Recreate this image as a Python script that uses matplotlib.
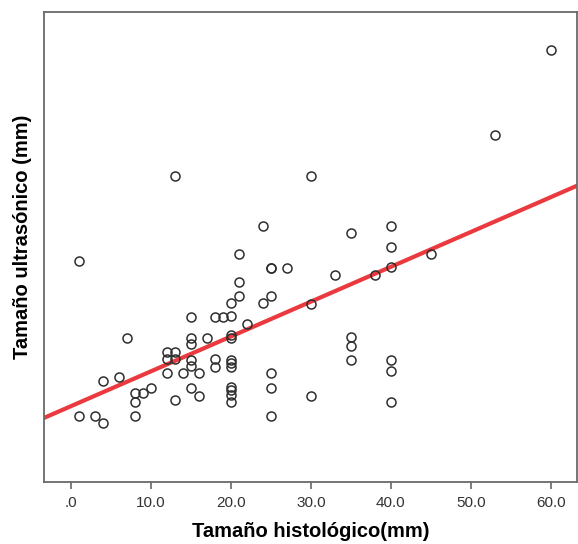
import matplotlib
matplotlib.use("Agg")
import matplotlib.pyplot as plt
import numpy as np

# histologic size (mm)
histologic = [
    1, 13, 30, 60, 53, 24, 35, 40, 40, 21, 45, 25, 25, 27, 33, 38, 40,
    21, 21, 25, 20, 24, 30, 15, 18, 19, 20, 22, 7, 15, 15, 17, 20, 20,
    35, 35, 35, 12, 13, 12, 13, 15, 15, 18, 18, 20, 20, 20, 40, 40, 12,
    14, 16, 25, 6, 4, 15, 10, 8, 9, 16, 13, 8, 20, 20, 20, 20, 25, 30,
    40, 1, 3, 8, 4, 25,
]
# ultrasonic size (mm), no scale shown on the original axis
ultrasonic = [
    27.6, 38.2, 38.2, 54.0, 43.4, 32.0, 31.1, 32.0, 29.4, 28.5, 28.5, 26.8, 26.8, 26.8, 25.9, 25.9, 26.9,
    25.0, 23.3, 23.3, 22.4, 22.4, 22.3, 20.6, 20.6, 20.6, 20.8, 19.8, 18.0, 18.0, 17.3, 18.0, 18.4, 18.0,
    18.1, 17.0, 15.3, 16.3, 16.3, 15.4, 15.4, 15.3, 14.5, 15.4, 14.4, 15.3, 14.9, 14.4, 15.3, 13.9, 13.6,
    13.6, 13.6, 13.6, 13.1, 12.6, 11.8, 11.8, 11.1, 11.1, 10.8, 10.3, 10.0, 11.9, 11.5, 10.9, 10.0, 11.8, 10.8,
    10.0, 8.3, 8.3, 8.3, 7.4, 8.2,
]
x_ticks = [0, 10, 20, 30, 40, 50, 60]
x_tick_labels = [".0", "10.0", "20.0", "30.0", "40.0", "50.0", "60.0"]

x = np.array(histologic, dtype=float)
y = np.array(ultrasonic, dtype=float)
slope, intercept = np.polyfit(x, y, 1)

plt.rcParams["font.family"] = ["Liberation Sans", "DejaVu Sans"]
fig = plt.figure(figsize=(5.78, 5.44), dpi=100)
ax = fig.add_axes([0.0761, 0.114, 0.922, 0.864])

ax.plot(x, y, linestyle="none", marker="o", markersize=6.5, markerfacecolor="none",
        markeredgecolor="#2e2e2e", markeredgewidth=1.1, zorder=3)

xmin, xmax = -3.35, 63.25
line_x = np.array([xmin, xmax])
ax.plot(line_x, intercept + slope * line_x, color="#ea3a3f", linewidth=3.0, zorder=2)

ax.set_xlim(xmin, xmax)
ax.set_ylim(0, 58.75)
ax.set_xticks(x_ticks)
ax.set_xticklabels(x_tick_labels, fontsize=11, color="#333333")
ax.tick_params(axis="x", direction="out", length=5, width=1.2, color="#666666", pad=5)
ax.set_yticks([])
for spine in ax.spines.values():
    spine.set_color("#6a6a6a")
    spine.set_linewidth(1.3)

ax.set_xlabel("Tamaño histológico(mm)", fontsize=14.5, fontweight="bold", labelpad=9)
ax.set_ylabel("Tamaño ultrasónico (mm)", fontsize=14.5, fontweight="bold")
ax.yaxis.set_label_coords(-0.022, 0.521)

fig.savefig("out.png", dpi=100)
